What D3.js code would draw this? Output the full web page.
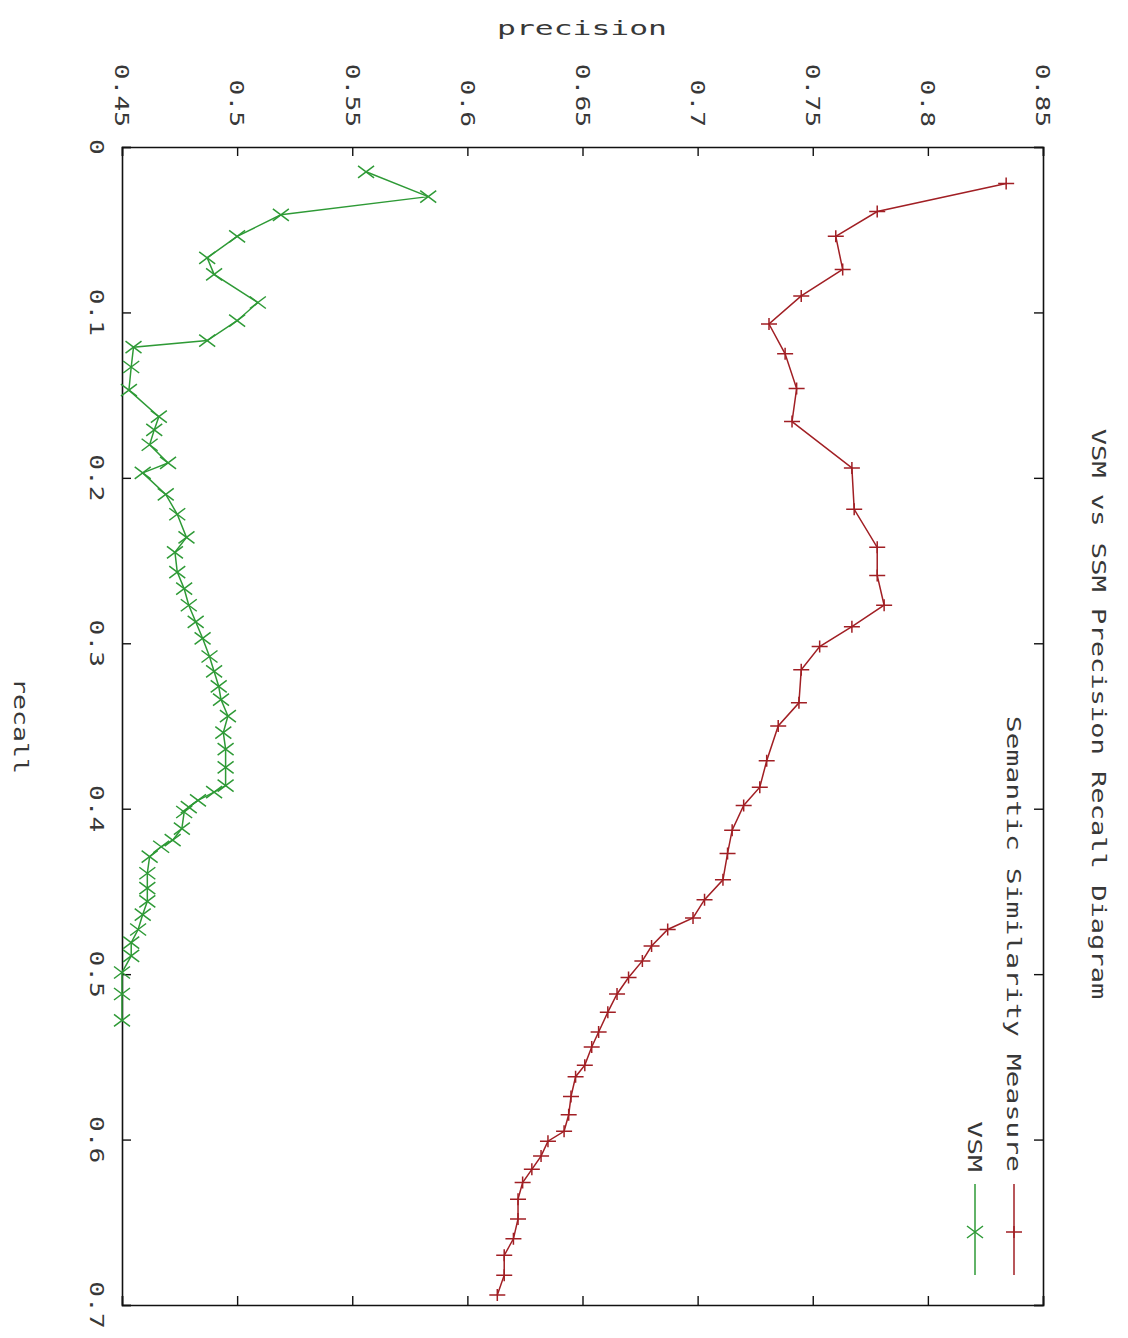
<!DOCTYPE html>
<html>
<head>
<meta charset="utf-8">
<script src="https://cdn.jsdelivr.net/npm/d3@7/dist/d3.min.js"></script>
<style>
  body { margin: 0; background: #fff; }
  text { font-family: "DejaVu Sans Mono", "Liberation Mono", monospace; fill: #383838; }
</style>
</head>
<body>
<svg id="chart" width="1128" height="1338"></svg>
<script>
var ssmRecall = [0.022,0.039,0.054,0.074,0.090,0.107,0.125,0.146,0.166,0.194,0.219,0.242,0.259,0.277,0.290,
  0.302,0.316,0.336,0.350,0.371,0.387,0.398,0.413,0.427,0.443,0.455,0.466,0.473,0.483,0.492,0.502,0.512,
  0.523,0.535,0.544,0.555,0.562,0.574,0.585,0.595,0.601,0.610,0.618,0.626,0.636,0.648,0.660,0.670,0.682,0.694];
var ssmPrecision = [0.834,0.778,0.760,0.763,0.745,0.731,0.738,0.743,0.741,0.767,0.768,0.778,0.778,0.781,0.767,
  0.753,0.745,0.744,0.735,0.730,0.727,0.720,0.715,0.713,0.711,0.703,0.698,0.687,0.680,0.676,0.670,0.665,
  0.661,0.657,0.654,0.651,0.647,0.645,0.644,0.642,0.635,0.632,0.628,0.624,0.622,0.622,0.620,0.616,0.616,0.613];

var vsmRecall = [0.015,0.030,0.041,0.054,0.067,0.077,0.094,0.105,0.117,0.121,0.133,0.147,0.163,0.171,0.180,
  0.191,0.197,0.210,0.222,0.236,0.245,0.257,0.267,0.277,0.287,0.297,0.308,0.317,0.326,0.334,0.344,0.354,
  0.364,0.375,0.386,0.390,0.395,0.399,0.402,0.412,0.419,0.423,0.429,0.439,0.448,0.456,0.464,0.473,0.481,
  0.489,0.499,0.512,0.528];
var vsmPrecision = [0.556,0.583,0.519,0.500,0.487,0.490,0.509,0.500,0.487,0.455,0.454,0.453,0.466,0.464,0.462,
  0.470,0.459,0.469,0.474,0.478,0.473,0.474,0.477,0.479,0.482,0.485,0.488,0.490,0.492,0.493,0.496,0.494,
  0.495,0.495,0.495,0.490,0.483,0.479,0.477,0.476,0.472,0.467,0.462,0.461,0.461,0.461,0.459,0.457,0.454,
  0.454,0.450,0.450,0.450];

var precisionTicks = [0.45,0.5,0.55,0.6,0.65,0.7,0.75,0.8,0.85];
var recallTicks = [0,0.1,0.2,0.3,0.4,0.5,0.6,0.7];
var seriesNames = ["Semantic Similarity Measure","VSM"];
var titleText = "VSM vs SSM Precision Recall Diagram";

var red = "#a11f24", green = "#2e9a36";

var svg = d3.select("#chart");

// the whole gnuplot picture is turned a quarter clockwise:
// precision runs left->right along the top, recall top->bottom along the left
var x = d3.scaleLinear().domain([0.45,0.85]).range([122,1043]);
var y = d3.scaleLinear().domain([0,0.7]).range([147,1305]);

var fmt = function(d){ return String(+d.toFixed(2)); };

// text written downwards (rotated 90deg), stretched to gnuplot's wide glyph pitch
function downText(px, py, str, anchor, pitch, size){
  return svg.append("text")
    .attr("transform","translate(" + px + "," + py + ") rotate(90)")
    .attr("text-anchor", anchor)
    .attr("dy","0.35em")
    .attr("font-size", size || 19)
    .attr("textLength", str.length * pitch)
    .attr("lengthAdjust","spacingAndGlyphs")
    .text(str);
}

// frame + inward ticks on all four sides
svg.append("g").attr("transform","translate(0,147)")
  .call(d3.axisTop(x).tickValues(precisionTicks).tickSize(-9).tickFormat(""));
svg.append("g").attr("transform","translate(0,1305)")
  .call(d3.axisBottom(x).tickValues(precisionTicks).tickSize(-9).tickFormat(""));
svg.append("g").attr("transform","translate(122,0)")
  .call(d3.axisLeft(y).tickValues(recallTicks).tickSize(-9).tickFormat(""));
svg.append("g").attr("transform","translate(1043,0)")
  .call(d3.axisRight(y).tickValues(recallTicks).tickSize(-9).tickFormat(""));

svg.selectAll(".domain").attr("stroke","#111").attr("stroke-width",1.6);
svg.selectAll(".tick line").attr("stroke","#111").attr("stroke-width",1.4);

// tick labels
precisionTicks.forEach(function(d){
  downText(x(d), 127, fmt(d), "end", 15.8);
});
recallTicks.forEach(function(d){
  downText(97, y(d), fmt(d), "middle", 15.8);
});

// axis titles, chart title
svg.append("text")
  .attr("x", 582).attr("y", 35)
  .attr("text-anchor","middle")
  .attr("font-size", 20)
  .attr("textLength", 170)
  .attr("lengthAdjust","spacingAndGlyphs")
  .text("precision");
downText(21, 726, "recall", "middle", 16);
downText(1099, 714, titleText, "middle", 16.3);

// series
var ssm = ssmRecall.map(function(r,i){ return {r:r, p:ssmPrecision[i]}; });
var vsm = vsmRecall.map(function(r,i){ return {r:r, p:vsmPrecision[i]}; });

var line = d3.line().x(function(d){ return x(d.p); }).y(function(d){ return y(d.r); });

var plusPath = "M-8,0H8M0,-6V6";
var crossPath = "M-8,-6L8,6M-8,6L8,-6";

function drawSeries(data, color, marker){
  svg.append("path").datum(data)
    .attr("d", line)
    .attr("fill","none")
    .attr("stroke", color)
    .attr("stroke-width", 1.5);
  svg.append("g").selectAll("path")
    .data(data).enter().append("path")
    .attr("transform", function(d){ return "translate(" + x(d.p) + "," + y(d.r) + ")"; })
    .attr("d", marker)
    .attr("fill","none")
    .attr("stroke", color)
    .attr("stroke-width", 1.5);
}
drawSeries(ssm, red, plusPath);
drawSeries(vsm, green, crossPath);

// key (bottom right)
var keys = [
  {name: seriesNames[0], color: red, marker: plusPath, kx: 1014},
  {name: seriesNames[1], color: green, marker: crossPath, kx: 975}
];
keys.forEach(function(k){
  downText(k.kx, 1172, k.name, "end", 16.9);
  svg.append("line")
    .attr("x1", k.kx).attr("x2", k.kx)
    .attr("y1", 1184).attr("y2", 1275)
    .attr("stroke", k.color).attr("stroke-width", 1.5);
  svg.append("path")
    .attr("transform","translate(" + k.kx + ",1232)")
    .attr("d", k.marker)
    .attr("fill","none")
    .attr("stroke", k.color).attr("stroke-width", 1.5);
});
</script>
</body>
</html>
